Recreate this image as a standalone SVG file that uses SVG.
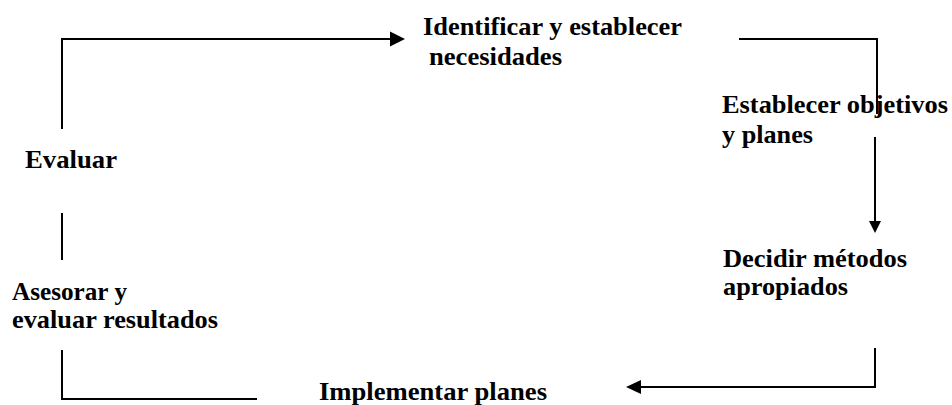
<svg xmlns="http://www.w3.org/2000/svg" width="952" height="405" viewBox="0 0 952 405">
<style>
text{font-family:"Liberation Serif","Times New Roman",serif;font-weight:bold;font-size:25.5px;fill:#000}
.ln{fill:none;stroke:#000;stroke-width:2}
.ah{fill:#000}
</style>
<rect width="952" height="405" fill="#fff"/>
<g id="connectors">
<path class="ln" d="M62,129 V39 H392"/>
<polygon class="ah" points="405,39 390,31.5 390,46.5"/>
<path class="ln" d="M739,39 H877 V114"/>
<path class="ln" d="M875,137 V223"/>
<polygon class="ah" points="875,233 869,221 881,221"/>
<path class="ln" d="M875,348 V387 H639"/>
<polygon class="ah" points="626,387 641,380 641,394"/>
<path class="ln" d="M62,350 V399 H257"/>
<path class="ln" d="M62,213 V260"/>
</g>
<g id="n1">
<text x="423" y="35" textLength="259" lengthAdjust="spacingAndGlyphs">Identificar y establecer</text>
<text x="429" y="65" textLength="133" lengthAdjust="spacingAndGlyphs">necesidades</text>
</g>
<g id="n2">
<text x="722" y="113" textLength="226" lengthAdjust="spacingAndGlyphs">Establecer objetivos</text>
<text x="722" y="143" textLength="91" lengthAdjust="spacingAndGlyphs">y planes</text>
</g>
<g id="n3">
<text x="723" y="267" textLength="184" lengthAdjust="spacingAndGlyphs">Decidir métodos</text>
<text x="723" y="295" textLength="125" lengthAdjust="spacingAndGlyphs">apropiados</text>
</g>
<g id="n4">
<text x="319" y="400" textLength="228" lengthAdjust="spacingAndGlyphs">Implementar planes</text>
</g>
<g id="n5">
<text x="12" y="300" textLength="115" lengthAdjust="spacingAndGlyphs">Asesorar y</text>
<text x="12" y="328" textLength="206" lengthAdjust="spacingAndGlyphs">evaluar resultados</text>
</g>
<g id="n6">
<text x="25" y="168" textLength="92" lengthAdjust="spacingAndGlyphs">Evaluar</text>
</g>
</svg>
